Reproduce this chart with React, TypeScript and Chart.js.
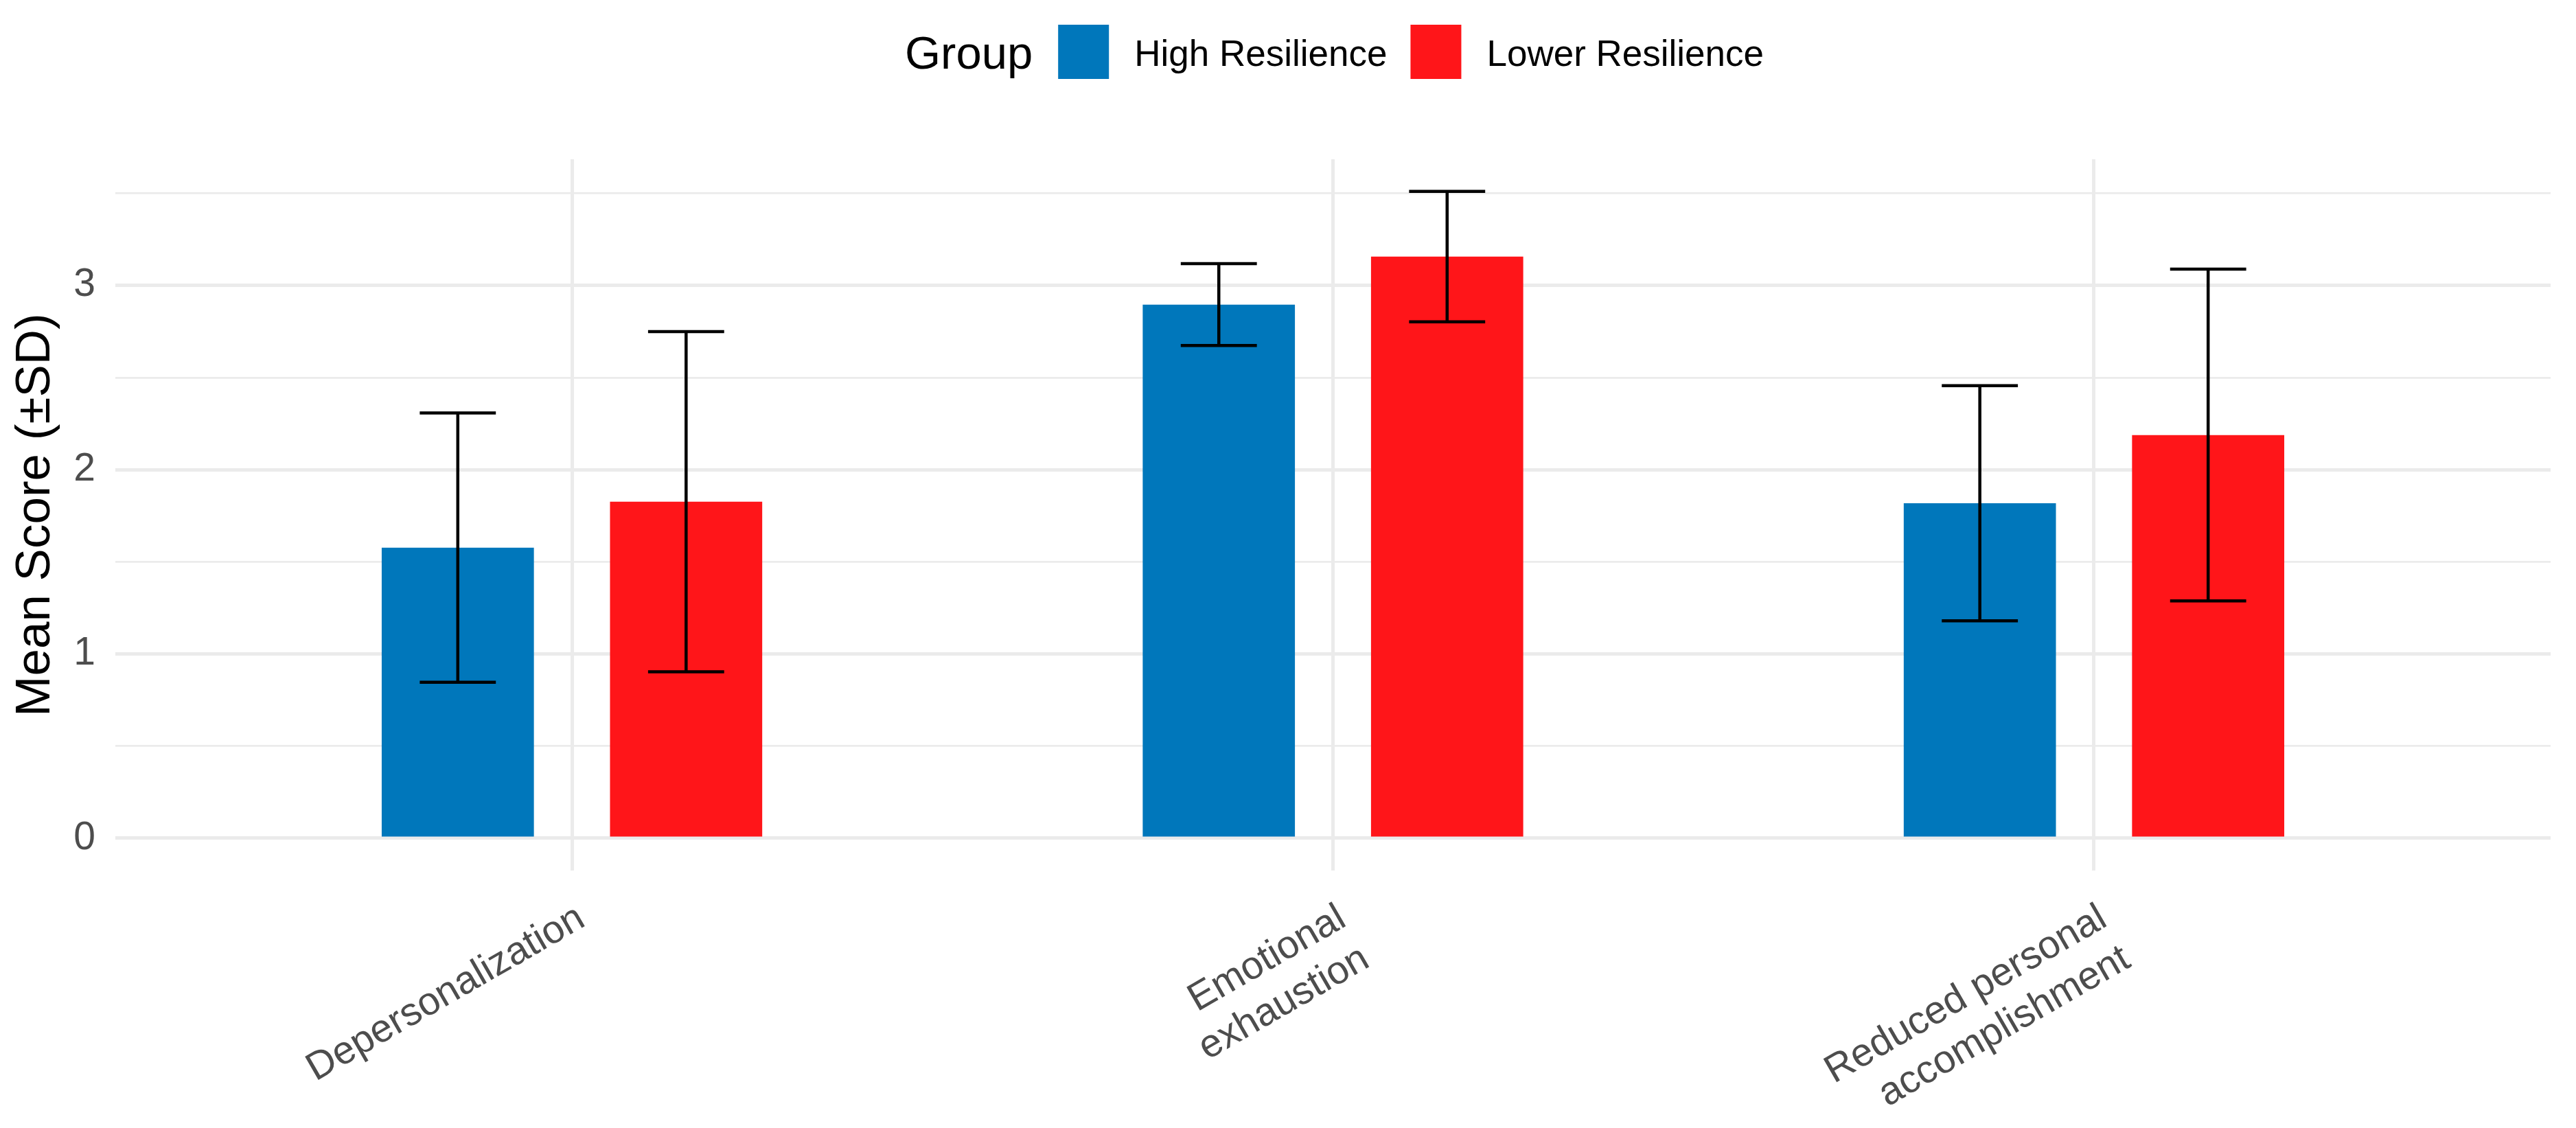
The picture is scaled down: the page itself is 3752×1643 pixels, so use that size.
import React, { useEffect, useRef } from "react";
import { Chart, registerables, CategoryScale } from "chart.js";

Chart.register(...registerables);

// ---- data ----
const categories: (string | string[])[] = [
  "Depersonalization",
  ["Emotional", "exhaustion"],
  ["Reduced personal", "accomplishment"],
];
const groupNames = ["High Resilience", "Lower Resilience"];
const highMean = [1.577, 2.896, 1.818];
const highSD = [0.731, 0.222, 0.638];
const lowerMean = [1.826, 3.156, 2.188];
const lowerSD = [0.923, 0.354, 0.9];
const yTickValues = [0, 1, 2, 3];

const COLORS = ["#0077BB", "#FF1519"];
const FONT = "'Liberation Sans', Arial, Helvetica, sans-serif";
const W = 3752;
const H = 1643;

// category scale with ggplot-like 0.6 expansion on both sides
class PaddedCategoryScale extends CategoryScale {
  static id = "paddedCategory";
  configure() {
    super.configure();
    const pad = 0.6;
    (this as any)._startValue = (this as any).min - pad;
    (this as any)._valueRange = Math.max((this as any).max - (this as any).min, 0) + 2 * pad;
  }
}
Chart.register(PaddedCategoryScale as any);

const errorBarPlugin = {
  id: "errorBars",
  afterDatasetsDraw(chart: any) {
    const ctx = chart.ctx;
    const yScale = chart.scales.y;
    ctx.save();
    ctx.strokeStyle = "#000000";
    ctx.lineWidth = 4.5;
    chart.data.datasets.forEach((ds: any, di: number) => {
      const meta = chart.getDatasetMeta(di);
      meta.data.forEach((bar: any, i: number) => {
        const m = ds.data[i];
        const s = ds.sd[i];
        const { x, width } = bar.getProps(["x", "width"], true);
        const yTop = yScale.getPixelForValue(m + s);
        const yBot = yScale.getPixelForValue(m - s);
        const half = width * 0.25;
        ctx.beginPath();
        ctx.moveTo(x, yTop);
        ctx.lineTo(x, yBot);
        ctx.moveTo(x - half, yTop);
        ctx.lineTo(x + half, yTop);
        ctx.moveTo(x - half, yBot);
        ctx.lineTo(x + half, yBot);
        ctx.stroke();
      });
    });
    ctx.restore();
  },
};

const legendPlugin = {
  id: "groupLegend",
  afterDraw(chart: any) {
    const ctx = chart.ctx;
    const area = chart.chartArea;
    const titleFont = `67px ${FONT}`;
    const labelFont = `53px ${FONT}`;
    const boxW = 74;
    const boxH = 79;
    const gapTitle = 37;
    const gapBoxText = 37;
    const gapItems = 34;
    ctx.save();
    ctx.font = titleFont;
    const titleW = ctx.measureText("Group").width;
    ctx.font = labelFont;
    const items = chart.data.datasets.map((ds: any) => ({
      label: ds.label,
      color: ds.backgroundColor,
      w: ctx.measureText(ds.label).width,
    }));
    let total = titleW + gapTitle;
    items.forEach((it: any, i: number) => {
      total += boxW + gapBoxText + it.w + (i < items.length - 1 ? gapItems : 0);
    });
    const cx = (area.left + area.right) / 2 + 2;
    let x = cx - total / 2;
    const textY = 81;
    const boxTop = 36;
    ctx.textBaseline = "middle";
    ctx.textAlign = "left";
    ctx.fillStyle = "#000000";
    ctx.font = titleFont;
    ctx.fillText("Group", x, textY + 1);
    x += titleW + gapTitle;
    ctx.font = labelFont;
    items.forEach((it: any) => {
      ctx.fillStyle = it.color;
      ctx.fillRect(x, boxTop, boxW, boxH);
      x += boxW + gapBoxText;
      ctx.fillStyle = "#000000";
      ctx.fillText(it.label, x, textY);
      x += it.w + gapItems;
    });
    ctx.restore();
  },
};

export default function App() {
  const canvasRef = useRef<HTMLCanvasElement | null>(null);

  useEffect(() => {
    document.body.style.margin = "0";
    document.body.style.overflow = "hidden";
    const canvas = canvasRef.current;
    if (!canvas) return;
    const chart = new Chart(canvas, {
      type: "bar",
      data: {
        labels: categories as any,
        datasets: [
          {
            label: groupNames[0],
            data: highMean,
            sd: highSD,
            backgroundColor: COLORS[0],
            borderWidth: 0,
          } as any,
          {
            label: groupNames[1],
            data: lowerMean,
            sd: lowerSD,
            backgroundColor: COLORS[1],
            borderWidth: 0,
          } as any,
        ],
      },
      options: {
        animation: false,
        responsive: false,
        devicePixelRatio: 1,
        events: [],
        layout: { padding: { top: 232, right: 37, left: 0, bottom: 0 } },
        datasets: {
          bar: { categoryPercentage: 0.6, barPercentage: 2 / 3 },
        },
        plugins: {
          legend: { display: false },
          tooltip: { enabled: false },
          title: { display: false },
        },
        scales: {
          x: {
            type: "paddedCategory" as any,
            offset: false,
            grid: {
              offset: false,
              color: "#EBEBEB",
              lineWidth: 5,
              drawTicks: false,
            },
            border: { display: false },
            ticks: {
              minRotation: 30,
              maxRotation: 30,
              autoSkip: false,
              padding: 36,
              labelOffset: 14,
              color: "#4D4D4D",
              font: { family: FONT, size: 57, lineHeight: 1.2 },
            },
            afterFit: (scale: any) => {
              scale.height = 375;
            },
          } as any,
          y: {
            min: -0.1755,
            max: 3.6845,
            grid: {
              color: "#EBEBEB",
              lineWidth: (c: any) =>
                yTickValues.includes(c.tick?.value) ? 5 : 2.7,
              drawTicks: false,
            },
            border: { display: false },
            ticks: {
              stepSize: 0.5,
              includeBounds: false,
              padding: 29,
              color: "#4D4D4D",
              font: { family: FONT, size: 57 },
              callback: (v: any) =>
                yTickValues.includes(Number(v)) ? String(v) : "",
            },
            title: {
              display: true,
              text: "Mean Score (±SD)",
              color: "#000000",
              font: { family: FONT, size: 71, lineHeight: 1.2 },
              padding: { top: 10, bottom: 0 },
            },
            afterFit: (scale: any) => {
              scale.width = 168;
            },
          },
        },
      },
      plugins: [errorBarPlugin, legendPlugin],
    });
    return () => chart.destroy();
  }, []);

  return (
    <div style={{ width: W, height: H, overflow: "hidden", background: "#FFFFFF" }}>
      <canvas
        ref={canvasRef}
        width={W}
        height={H}
        style={{ display: "block", width: W, height: H }}
      />
    </div>
  );
}
